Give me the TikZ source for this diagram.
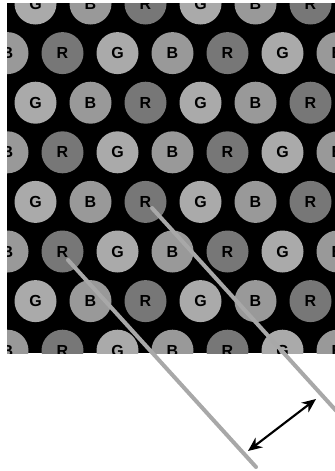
\documentclass[tikz,border=0pt]{standalone}
\usepackage{fontspec}
\setmainfont{Liberation Sans}
\usetikzlibrary{arrows.meta}
\definecolor{colG}{HTML}{AAAAAA}
\definecolor{colB}{HTML}{999999}
\definecolor{colR}{HTML}{777777}
\definecolor{linecol}{HTML}{A8A8A8}
\begin{document}
\begin{tikzpicture}[x=0.75pt,y=-0.75pt,
  dot/.style={circle,minimum size=31.5pt,inner sep=0pt,
    font=\fontsize{12}{14}\selectfont\bfseries,text=black},
  beam/.style={line width=3pt,draw=linecol,line cap=round},
  dbl/.style={{Stealth[length=10.5pt,width=9pt]}-{Stealth[length=10.5pt,width=9pt]},line width=1.6pt}]
\useasboundingbox (0,0) rectangle (335,471);
\clip (0,0) rectangle (335,471);
\begin{scope}
  \clip (7,3) rectangle (335,353);
  \fill[black] (7,3) rectangle (335,353);
  \foreach \k in {0,2,4,6} {
    \foreach \j/\l in {0/G,1/B,2/R,3/G,4/B,5/R} {
      \node[dot,fill=col\l] (c\k\j) at ({35.5+55*\j},{3.5+49.6*\k}) {\l};
    }
  }
  \foreach \k in {1,3,5,7} {
    \foreach \j/\l in {0/B,1/R,2/G,3/B,4/R,5/G,6/B} {
      \node[dot,fill=col\l] (c\k\j) at ({7.5+55*\j},{3.5+49.6*\k}) {\l};
    }
  }
\end{scope}
\coordinate (a1) at (152,208);
\coordinate (a2) at (340,415);
\coordinate (b1) at (68,260);
\coordinate (b2) at (256,467);
\draw[beam] (a1) -- (a2);
\draw[beam] (b1) -- (b2);
\coordinate (p) at (248,451);
\coordinate (q) at (316,399);
\draw[dbl] (p) -- (q);
\end{tikzpicture}
\end{document}
